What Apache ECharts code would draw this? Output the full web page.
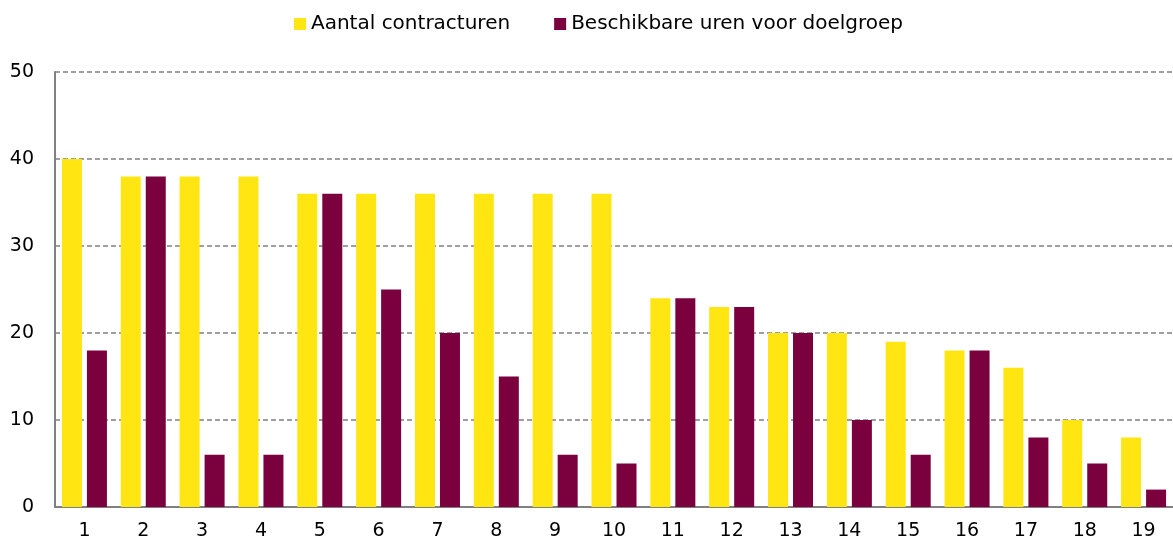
<!DOCTYPE html>
<html>
<head>
<meta charset="utf-8">
<script src="https://cdn.jsdelivr.net/npm/echarts@6/dist/echarts.min.js"></script>
<style>
    html, body { margin: 0; padding: 0; background: #fff; }
    #myChart { width: 1173px; height: 544px; }
</style>
</head>
<body>
<div id="myChart"></div>
<script>
var categories = ['1', '2', '3', '4', '5', '6', '7', '8', '9', '10', '11', '12', '13', '14', '15', '16', '17', '18', '19'];
var contracturen = [40, 38, 38, 38, 36, 36, 36, 36, 36, 36, 24, 23, 20, 20, 19, 18, 16, 10, 8];
var doelgroepUren = [18, 38, 6, 6, 36, 25, 20, 15, 6, 5, 24, 23, 20, 10, 6, 18, 8, 5, 2];
var legend = ['Aantal contracturen', 'Beschikbare uren voor doelgroep'];

var font = 'DejaVu Sans';
var myChart = echarts.init(document.getElementById('myChart')),
    option = {
        animation: false,
        textStyle: {
            fontFamily: font
        },
        legend: {
            data: legend,
            top: 9,
            left: 289,
            itemWidth: 12,
            itemHeight: 12,
            itemGap: 44,
            icon: 'rect',
            textStyle: {
                fontFamily: font,
                fontSize: 20,
                color: '#000'
            }
        },
        grid: {
            left: 55,
            right: 0,
            top: 72,
            bottom: 37
        },
        xAxis: {
            type: 'category',
            data: categories,
            axisLine: {
                lineStyle: { color: '#808080', width: 2 }
            },
            axisTick: {
                alignWithLabel: true,
                length: 6,
                lineStyle: { color: '#808080', width: 2 }
            },
            axisLabel: {
                color: '#000',
                fontSize: 19,
                margin: 15
            }
        },
        yAxis: {
            type: 'value',
            min: 0,
            max: 50,
            interval: 10,
            axisLine: {
                show: true,
                lineStyle: { color: '#808080', width: 2 }
            },
            axisTick: { show: false },
            axisLabel: {
                color: '#000',
                fontSize: 19,
                margin: 21
            },
            splitLine: {
                lineStyle: { color: '#808080', type: [5, 3], width: 1.5 }
            }
        },
        series: [
            {
                name: legend[0],
                type: 'bar',
                data: contracturen,
                barWidth: 20,
                barGap: '25%',
                itemStyle: { color: '#FFE512' }
            },
            {
                name: legend[1],
                type: 'bar',
                data: doelgroepUren,
                barWidth: 20,
                itemStyle: { color: '#7A003E' }
            }
        ]
    };
myChart.setOption(option);
</script>
</body>
</html>
